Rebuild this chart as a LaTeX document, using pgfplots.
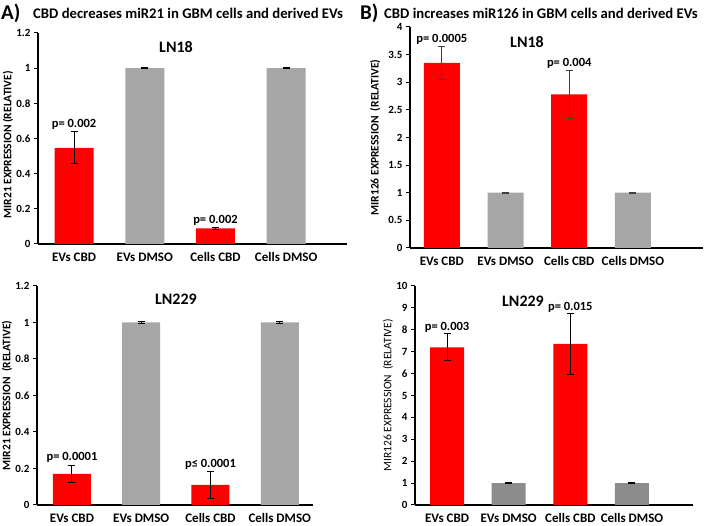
\documentclass[border=0pt]{standalone}
\usepackage{pgfplots}
\pgfplotsset{compat=1.18}
\usepackage{fontspec}
\setmainfont{Carlito}
\definecolor{barred}{RGB}{255,0,0}
\definecolor{bargray}{RGB}{166,166,166}
\definecolor{bargraydk}{RGB}{140,140,140}
\tikzset{plab/.style={font=\bfseries\fontsize{12.5}{14}\selectfont, anchor=center}}
\pgfplotsset{
  panel/.style={
    scale only axis, anchor=south west,
    axis x line=bottom, axis y line=left,
    axis line style={-, line width=1.2pt, black},
    ymin=0, ybar, bar shift=0pt,
    xtick={0,1,2,3},
    xticklabels={EVs CBD, EVs DMSO, Cells CBD, Cells DMSO},
    xtick style={draw=none},
    ytick style={line width=1pt, black},
    tick align=outside, major tick length=4pt,
    /pgf/number format/assume math mode=true,
    xticklabel style={font=\bfseries\fontsize{13}{15}\selectfont, yshift=-1pt},
    yticklabel style={font=\bfseries\fontsize{11}{13}\selectfont},
    every axis y label/.style={rotate=90, anchor=center, font=\bfseries\fontsize{11.5}{13}\selectfont},
    error bars/y dir=both, error bars/y explicit,
    error bars/error bar style={line width=1pt, black},
    error bars/error mark options={rotate=90, mark size=3.5pt, line width=1pt, black},
  },
  redbar/.style={fill=barred, draw=none},
  graybar/.style={fill=bargray, draw=none},
}
\begin{document}
\begin{tikzpicture}
\path[use as bounding box, fill=white] (0pt,0pt) rectangle (711pt,526pt);
% ---------- A top ----------
\begin{axis}[panel, at={(38pt,282pt)}, width=309pt, height=211pt,
  xmin=-0.51, xmax=3.86, ymax=1.2, ytick={0,0.2,...,1.2},
  yticklabels={0,0.2,0.4,0.6,0.8,1,1.2},
  bar width=39pt, ylabel={MIR21 EXPRESSION (RELATIVE)},
  ylabel style={at={(axis description cs:-0.097,0.47)}}]
\addplot[redbar] coordinates {(0,0.547) +- (0,0.091) (2,0.089) +- (0,0.005)};
\addplot[graybar] coordinates {(1,1) +- (0,0.003) (3,1) +- (0,0.003)};
\node[plab] at (axis cs:0,0.68) {p= 0.002};
\node[plab] at (axis cs:2,0.137) {p= 0.002};
\end{axis}
% ---------- A bottom ----------
\begin{axis}[panel, at={(37pt,21pt)}, width=276pt, height=219pt,
  xmin=-0.505, xmax=3.48, ymax=1.2, ytick={0,0.2,...,1.2},
  yticklabels={0,0.2,0.4,0.6,0.8,1,1.2},
  bar width=38pt, ylabel={MIR21 EXPRESSION~~(RELATIVE)},
  ylabel style={at={(axis description cs:-0.109,0.5)}}]
\addplot[redbar] coordinates {(0,0.17) +- (0,0.045) (2,0.11) +- (0,0.076)};
\addplot[graybar] coordinates {(1,1) +- (0,0.003) (3,1) +- (0,0.003)};
\node[plab] at (axis cs:0,0.263) {p= 0.0001};
\node[plab] at (axis cs:2,0.225) {p≤ 0.0001};
\end{axis}
% ---------- B top ----------
\begin{axis}[panel, at={(410pt,278pt)}, width=293pt, height=221pt,
  xmin=-0.5, xmax=4.1, ymax=4, ytick={0,0.5,...,4},
  yticklabels={0,0.5,1,1.5,2,2.5,3,3.5,4},
  bar width=36pt, ylabel={MIR126 EXPRESSION~~(RELATIVE)},
  ylabel style={at={(axis description cs:-0.119,0.5)}},
  error bars/error bar style={line width=1pt, black!75},
  error bars/error mark options={rotate=90, mark size=3.5pt, line width=1pt, black!75}]
\addplot[redbar] coordinates {(0,3.35) +- (0,0.305) (2,2.78) +- (0,0.44)};
\addplot[graybar] coordinates {(1,1) +- (0,0.008) (3,1) +- (0,0.008)};
\node[plab] at (axis cs:0,3.78) {p= 0.0005};
\node[plab] at (axis cs:2,3.35) {p= 0.004};
\end{axis}
% ---------- B bottom ----------
\begin{axis}[panel, at={(415pt,21pt)}, width=278pt, height=219pt,
  xmin=-0.52, xmax=3.99, ymax=10, ytick={0,1,...,10},
  bar width=34pt, ylabel={MIR126 EXPRESSION~~(RELATIVE)},
  ylabel style={at={(axis description cs:-0.097,0.5)}, font=\fontsize{11.5}{13}\selectfont}]
\addplot[redbar] coordinates {(0,7.2) +- (0,0.61) (2,7.36) +- (0,1.39)};
\addplot[fill=bargraydk, draw=none] coordinates {(1,1) +- (0,0.02) (3,1) +- (0,0.02)};
\node[plab] at (axis cs:0,8.13) {p= 0.003};
\node[plab] at (axis cs:2,9.04) {p= 0.015};
\end{axis}
% ---------- titles ----------
\node[font=\bfseries\fontsize{16}{18}\selectfont] at (176pt,479pt) {LN18};
\node[font=\bfseries\fontsize{16}{18}\selectfont] at (176pt,227pt) {LN229};
\node[font=\bfseries\fontsize{16}{18}\selectfont] at (527pt,484pt) {LN18};
\node[font=\bfseries\fontsize{16}{18}\selectfont] at (523pt,225pt) {LN229};
\node[font=\bfseries\fontsize{21}{23}\selectfont, anchor=west, inner sep=1pt] at (0pt,513pt) {A)};
\node[font=\bfseries\fontsize{14.7}{17}\selectfont, anchor=west, inner sep=1pt] at (32pt,513pt) {CBD decreases miR21 in GBM cells and derived EVs};
\node[font=\bfseries\fontsize{21}{23}\selectfont, anchor=west, inner sep=1pt] at (359pt,513pt) {B)};
\node[font=\bfseries\fontsize{14.7}{17}\selectfont, anchor=west, inner sep=1pt] at (383pt,513pt) {CBD increases miR126 in GBM cells and derived EVs};
\end{tikzpicture}
\end{document}
